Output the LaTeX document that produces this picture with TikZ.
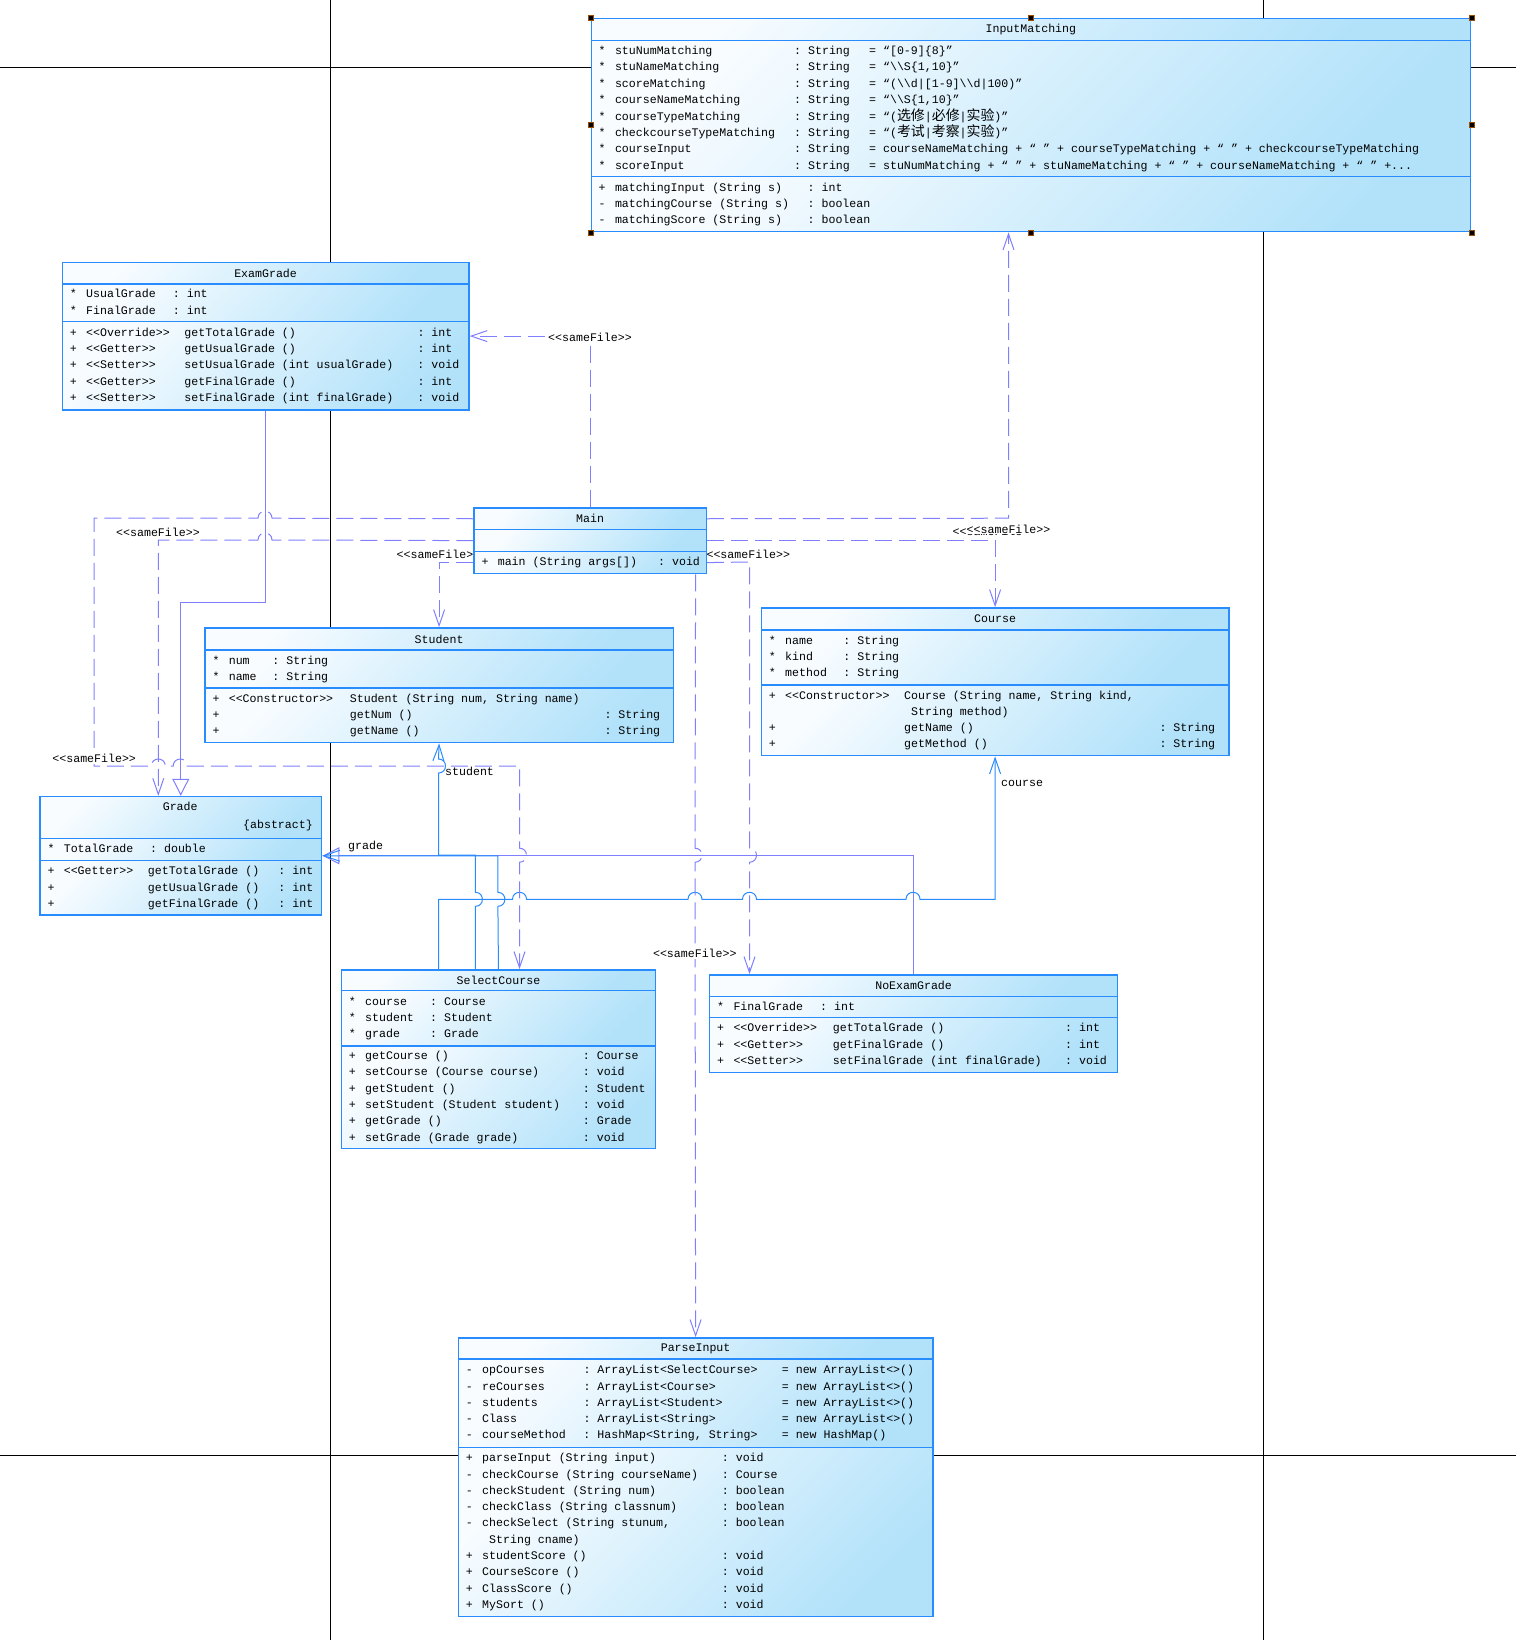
\documentclass[tikz,border=0pt]{standalone}
\usepackage{fontspec}
\setmonofont{Liberation Mono}
\newfontfamily\cjk{Noto Sans CJK SC}[Scale=1.2]
\usepackage{tikz}
\usetikzlibrary{arrows.meta,fit}
\pgfdeclarelayer{pagegrid}
\pgfdeclarelayer{links}
\pgfsetlayers{pagegrid,links,main}
\definecolor{boxline}{RGB}{40,140,255}
\definecolor{boxlight}{RGB}{248,252,255}
\definecolor{boxdark}{RGB}{178,226,250}
\definecolor{depline}{RGB}{128,128,255}
\newcommand{\umlfont}{\ttfamily\fontsize{11.6}{16.3}\selectfont}
% line jumps: horizontal ones bump up, vertical ones bump right
\newcommand{\jumpr}[2]{-- (#1-7,#2) .. controls (#1-7,#2-9.3) and (#1+7,#2-9.3) .. (#1+7,#2)}
\newcommand{\jumpl}[2]{-- (#1+7,#2) .. controls (#1+7,#2-9.3) and (#1-7,#2-9.3) .. (#1-7,#2)}
\newcommand{\jumpd}[2]{-- (#1,#2-7) .. controls (#1+9.3,#2-7) and (#1+9.3,#2+7) .. (#1,#2+7)}
\newcommand{\jumpu}[2]{-- (#1,#2+7) .. controls (#1+9.3,#2+7) and (#1+9.3,#2-7) .. (#1,#2-7)}
\begin{document}
\begin{tikzpicture}[x=1pt, y=-1pt, font=\umlfont,
  part/.style={draw=boxline, line width=1.2pt, top color=boxlight, bottom color=boxdark,
    shading angle=45, anchor=north west, inner sep=0},
  rows/.style={anchor=west, inner sep=0, xshift=8pt},
  cls/.style={inner sep=0},
  dep/.style={draw=depline, line width=1pt, dash pattern=on 17pt off 7pt,
    -{Straight Barb[length=16pt, width=11pt]}},
  assoc/.style={draw=boxline, line width=1pt, -{Straight Barb[length=16pt, width=11pt]}},
  gen/.style={draw=depline, line width=1pt, -{Triangle[open, length=17pt, width=17pt]}},
  lbl/.style={fill=white, inner sep=1pt},
  role/.style={anchor=west, inner sep=0},
  pageline/.style={draw=black, line width=1pt},
  handle/.style={fill=black, draw=orange!60!black, line width=0.6pt}
]
\useasboundingbox (0,0) rectangle (1516,1640);

% InputMatching
\node[part, minimum width=879.5, minimum height=21.7] (inmatch-t) at (590.5,18.3) {InputMatching};
\node[part, minimum width=879.5, minimum height=136] (inmatch-a) at (590.5,40) {};
\node[part, minimum width=879.5, minimum height=55] (inmatch-m) at (590.5,176) {};
\node[cls, fit=(inmatch-t)(inmatch-m)] (inmatch) {};
\node[rows] (inmatch-at) at (inmatch-a.west) {\begin{tabular}{@{}p{16.3pt}@{}p{179.2pt}@{}p{75pt}@{}l@{}}
{*} & stuNumMatching & : String & = “[0-9]\{8\}”\\
{*} & stuNameMatching & : String & = “\textbackslash\textbackslash S\{1,10\}”\\
{*} & scoreMatching & : String & = “(\textbackslash\textbackslash d|[1-9]\textbackslash\textbackslash d|100)”\\
{*} & courseNameMatching & : String & = “\textbackslash\textbackslash S\{1,10\}”\\
{*} & courseTypeMatching & : String & = “({\cjk 选修}|{\cjk 必修}|{\cjk 实验})”\\
{*} & checkcourseTypeMatching & : String & = “({\cjk 考试}|{\cjk 考察}|{\cjk 实验})”\\
{*} & courseInput & : String & = courseNameMatching + “ ” + courseTypeMatching + “ ” + checkcourseTypeMatching\\
{*} & scoreInput & : String & = stuNumMatching + “ ” + stuNameMatching + “ ” + courseNameMatching + “ ” +...
\end{tabular}};
\node[rows] (inmatch-mt) at (inmatch-m.west) {\begin{tabular}{@{}p{16.3pt}@{}p{192.7pt}@{}l@{}}
+ & matchingInput (String s) & : int\\
- & matchingCourse (String s) & : boolean\\
- & matchingScore (String s) & : boolean
\end{tabular}};
\foreach \a in {north west,north,north east,west,east,south west,south,south east}
  \filldraw[handle] ([shift={(-2.5pt,-2.5pt)}]inmatch.\a) rectangle ++(5pt,5pt);

% ExamGrade
\node[part, minimum width=406.6, minimum height=21.6] (exam-t) at (61.7,261.7) {ExamGrade};
\node[part, minimum width=406.6, minimum height=37.4] (exam-a) at (61.7,283.3) {};
\node[part, minimum width=406.6, minimum height=88.6] (exam-m) at (61.7,320.7) {};
\node[cls, fit=(exam-t)(exam-m)] (exam) {};
\node[rows] (exam-at) at (exam-a.west) {\begin{tabular}{@{}p{16.3pt}@{}p{86.7pt}@{}l@{}}
{*} & UsualGrade & : int\\
{*} & FinalGrade & : int
\end{tabular}};
\node[rows] (exam-mt) at (exam-m.west) {\begin{tabular}{@{}p{16.3pt}@{}p{98.3pt}@{}p{233pt}@{}l@{}}
+ & <<Override>> & getTotalGrade () & : int\\
+ & <<Getter>> & getUsualGrade () & : int\\
+ & <<Setter>> & setUsualGrade (int usualGrade) & : void\\
+ & <<Getter>> & getFinalGrade () & : int\\
+ & <<Setter>> & setFinalGrade (int finalGrade) & : void
\end{tabular}};

% Main
\node[part, minimum width=232.4, minimum height=21.7] (main-t) at (473.3,507.3) {Main};
\node[part, minimum width=232.4, minimum height=22] (main-a) at (473.3,529) {};
\node[part, minimum width=232.4, minimum height=22] (main-m) at (473.3,551) {};
\node[cls, fit=(main-t)(main-m)] (main) {};
\node[rows] (main-mt) at (main-m.west) {\begin{tabular}{@{}p{16.3pt}@{}p{160.4pt}@{}l@{}}
+ & main (String args[]) & : void
\end{tabular}};

% Student
\node[part, minimum width=468.4, minimum height=22] (student-t) at (204.3,627.3) {Student};
\node[part, minimum width=468.4, minimum height=38] (student-a) at (204.3,649.3) {};
\node[part, minimum width=468.4, minimum height=54.7] (student-m) at (204.3,687.3) {};
\node[cls, fit=(student-t)(student-m)] (student) {};
\node[rows] (student-at) at (student-a.west) {\begin{tabular}{@{}p{16.3pt}@{}p{43.7pt}@{}l@{}}
{*} & num & : String\\
{*} & name & : String
\end{tabular}};
\node[rows] (student-mt) at (student-m.west) {\begin{tabular}{@{}p{16.3pt}@{}p{121.1pt}@{}p{254.6pt}@{}l@{}}
+ & <<Constructor>> & Student (String num, String name) & \\
+ & & getNum () & : String\\
+ & & getName () & : String
\end{tabular}};

% Course
\node[part, minimum width=467.6, minimum height=22] (course-t) at (760.7,607.3) {Course};
\node[part, minimum width=467.6, minimum height=55] (course-a) at (760.7,629.3) {};
\node[part, minimum width=467.6, minimum height=70.7] (course-m) at (760.7,684.3) {};
\node[cls, fit=(course-t)(course-m)] (course) {};
\node[rows] (course-at) at (course-a.west) {\begin{tabular}{@{}p{16.3pt}@{}p{58.3pt}@{}l@{}}
{*} & name & : String\\
{*} & kind & : String\\
{*} & method & : String
\end{tabular}};
\node[rows] (course-mt) at (course-m.west) {\begin{tabular}{@{}p{16.3pt}@{}p{119pt}@{}p{255.3pt}@{}l@{}}
+ & <<Constructor>> & Course (String name, String kind, & \\
 & & \hspace*{7pt}String method) & \\
+ & & getName () & : String\\
+ & & getMethod () & : String
\end{tabular}};

% Grade
\node[part, minimum width=281.7, minimum height=41.7] (grade-t) at (39.3,796) {};
\node[part, minimum width=281.7, minimum height=22.3] (grade-a) at (39.3,837.7) {};
\node[part, minimum width=281.7, minimum height=54.3] (grade-m) at (39.3,860) {};
\node[cls, fit=(grade-t)(grade-m)] (grade) {};
\node (grade-name) at (180.2,806) {Grade};
\node[anchor=east, inner sep=0] (grade-abs) at (313,825) {\{abstract\}};
\node[rows] (grade-at) at (grade-a.west) {\begin{tabular}{@{}p{16.3pt}@{}p{86.4pt}@{}l@{}}
{*} & TotalGrade & : double
\end{tabular}};
\node[rows] (grade-mt) at (grade-m.west) {\begin{tabular}{@{}p{16.3pt}@{}p{84.1pt}@{}p{130.6pt}@{}l@{}}
+ & <<Getter>> & getTotalGrade () & : int\\
+ & & getUsualGrade () & : int\\
+ & & getFinalGrade () & : int
\end{tabular}};

% SelectCourse
\node[part, minimum width=314.3, minimum height=20.7] (select-t) at (340.7,969.3) {SelectCourse};
\node[part, minimum width=314.3, minimum height=55.3] (select-a) at (340.7,990) {};
\node[part, minimum width=314.3, minimum height=102.4] (select-m) at (340.7,1045.3) {};
\node[cls, fit=(select-t)(select-m)] (select) {};
\node[rows] (select-at) at (select-a.west) {\begin{tabular}{@{}p{16.3pt}@{}p{65pt}@{}l@{}}
{*} & course & : Course\\
{*} & student & : Student\\
{*} & grade & : Grade
\end{tabular}};
\node[rows] (select-mt) at (select-m.west) {\begin{tabular}{@{}p{16.3pt}@{}p{217.7pt}@{}l@{}}
+ & getCourse () & : Course\\
+ & setCourse (Course course) & : void\\
+ & getStudent () & : Student\\
+ & setStudent (Student student) & : void\\
+ & getGrade () & : Grade\\
+ & setGrade (Grade grade) & : void
\end{tabular}};

% NoExamGrade
\node[part, minimum width=408, minimum height=21.7] (noexam-t) at (709,974.3) {NoExamGrade};
\node[part, minimum width=408, minimum height=20.7] (noexam-a) at (709,996) {};
\node[part, minimum width=408, minimum height=55] (noexam-m) at (709,1016.7) {};
\node[cls, fit=(noexam-t)(noexam-m)] (noexam) {};
\node[rows] (noexam-at) at (noexam-a.west) {\begin{tabular}{@{}p{16.3pt}@{}p{86.7pt}@{}l@{}}
{*} & FinalGrade & : int
\end{tabular}};
\node[rows] (noexam-mt) at (noexam-m.west) {\begin{tabular}{@{}p{16.3pt}@{}p{99.4pt}@{}p{232.3pt}@{}l@{}}
+ & <<Override>> & getTotalGrade () & : int\\
+ & <<Getter>> & getFinalGrade () & : int\\
+ & <<Setter>> & setFinalGrade (int finalGrade) & : void
\end{tabular}};

% ParseInput
\node[part, minimum width=474.6, minimum height=21] (parse-t) at (457.7,1337.3) {ParseInput};
\node[part, minimum width=474.6, minimum height=88.4] (parse-a) at (457.7,1358.3) {};
\node[part, minimum width=474.6, minimum height=169] (parse-m) at (457.7,1446.7) {};
\node[cls, fit=(parse-t)(parse-m)] (parse) {};
\node[rows] (parse-at) at (parse-a.west) {\begin{tabular}{@{}p{16.3pt}@{}p{101.3pt}@{}p{198.4pt}@{}l@{}}
- & opCourses & : ArrayList<SelectCourse> & = new ArrayList<>()\\
- & reCourses & : ArrayList<Course> & = new ArrayList<>()\\
- & students & : ArrayList<Student> & = new ArrayList<>()\\
- & Class & : ArrayList<String> & = new ArrayList<>()\\
- & courseMethod & : HashMap<String, String> & = new HashMap()
\end{tabular}};
\node[rows] (parse-mt) at (parse-m.west) {\begin{tabular}{@{}p{16.3pt}@{}p{239.7pt}@{}l@{}}
+ & parseInput (String input) & : void\\
- & checkCourse (String courseName) & : Course\\
- & checkStudent (String num) & : boolean\\
- & checkClass (String classnum) & : boolean\\
- & checkSelect (String stunum, & : boolean\\
 & \hspace*{7pt}String cname) & \\
+ & studentScore () & : void\\
+ & CourseScore () & : void\\
+ & ClassScore () & : void\\
+ & MySort () & : void
\end{tabular}};

% page break lines of the editor
\begin{pgfonlayer}{pagegrid}
\fill[white] (0,0) rectangle (1516,1640);
\draw[pageline] (330.6,0) -- (330.6,1640);
\draw[pageline] (1263,0) -- (1263,1640);
\draw[pageline] (0,68) -- (1516,68);
\draw[pageline] (0,1455) -- (1516,1455);
\end{pgfonlayer}

\begin{pgfonlayer}{links}
% generalizations
\draw[gen] (noexam.north) |- (grade.east);
\draw[gen] (exam.south) -- (exam.south |- 0,602.3) -| (grade.north);
% associations
\draw[assoc] (select.north) \jumpu{497.9}{899.3} |- (grade.east);
\draw[assoc] (select.north -| 475.4,0) \jumpu{475.4}{899.3} -- (475.4,855.2) -- (438.5,855.2) \jumpu{438.5}{766} -- (student.south);
\draw[assoc] (select.north -| 438.5,0) -- (438.5,899.3) \jumpr{519.5}{899.3} \jumpr{695}{899.3} \jumpr{749.5}{899.3} \jumpr{913}{899.3} -| (course.south);
% sameFile dependencies of Main
\draw[dep] (main.north) |- (exam.east);
\draw[dep] (main-t.east) -- (1008.5,518.2) -- (inmatch.south -| 1008.5,0);
\draw[dep] (main-a.east) -| (course.north);
\draw[dep] (main-m.east) -- (749.5,562) \jumpd{749.5}{855.2} -- (noexam.north -| 749.5,0);
\draw[dep] (main.south -| parse.north) \jumpd{695}{855.2} -- (parse.north);
\draw[dep] (main-m.west) -| (student.north);
\draw[dep] (main-a.west) \jumpl{265}{540} -- (158.3,540) -- (grade.north -| 158.3,0);
\draw[dep] (main-t.west) \jumpl{265}{518.2} -- (94,518.2) -- (94,766) \jumpr{158.3}{766} \jumpr{180.2}{766} -- (519.5,766) \jumpd{519.5}{855.2} -- (select.north -| 519.5,0);
% labels
\node[lbl] (l-exam) at (590,337) {<<sameFile>>};
\node[lbl] (l-select) at (94.2,758.3) {<<sameFile>>};
\node[lbl] (l-grade) at (158,532.3) {<<sameFile>>};
\node[lbl] (l-student) at (438.5,554.3) {<<sameFile>>};
\node[lbl] (l-course) at (994.5,531) {<<sameFile>>};
\node[lbl] (l-inmatch) at (1008.5,529) {<<sameFile>>};
\node[lbl] (l-noexam) at (748.3,554) {<<sameFile>>};
\node[lbl] (l-parse) at (694.8,953.3) {<<sameFile>>};
\node[role] (r-student) at (445,771) {student};
\node[role] (r-course) at (1001,783.6) {course};
\node[role] (r-grade) at (348,846.5) {grade};
\end{pgfonlayer}
\end{tikzpicture}
\end{document}
